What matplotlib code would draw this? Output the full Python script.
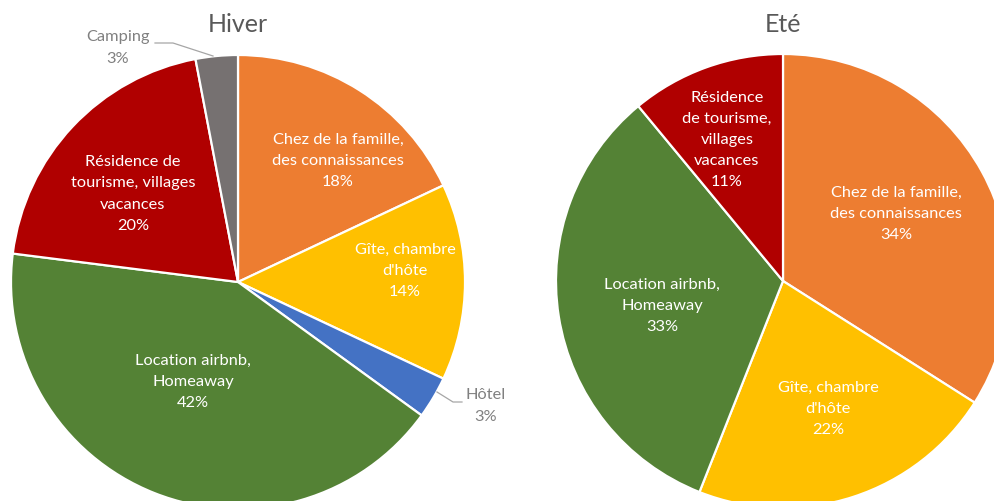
import matplotlib.pyplot as plt

# Hiver
hiver_labels = ["Chez de la famille,\ndes connaissances", "Gîte, chambre\nd'hôte", "Hôtel",
                "Location airbnb,\nHomeaway", "Résidence de\ntourisme, villages\nvacances", "Camping"]
hiver_values = [18, 14, 3, 42, 20, 3]
hiver_colors = ["#ED7D31", "#FFC000", "#4472C4", "#548235", "#B00000", "#767171"]

# Eté
ete_labels = ["Chez de la famille,\ndes connaissances", "Gîte, chambre\nd'hôte",
              "Location airbnb,\nHomeaway", "Résidence\nde tourisme,\nvillages\nvacances"]
ete_values = [34, 22, 33, 11]
ete_colors = ["#ED7D31", "#FFC000", "#548235", "#B00000"]

H = 501
plt.rcParams['font.family'] = ['Lato', 'DejaVu Sans']

fig = plt.figure(figsize=(9.95, 5.01), dpi=100)
ax = fig.add_axes([0, 0, 1, 1])


def py(y):
    return H - y


def draw_pie(values, colors, labels, center, radius, label_pos, outside, title, title_pos):
    ax.pie(values, colors=colors, startangle=90, counterclock=False,
           center=(center[0], py(center[1])), radius=radius,
           wedgeprops=dict(edgecolor="white", linewidth=1.6))
    total = sum(values)
    for lab, v, (x, y), out in zip(labels, values, label_pos, outside):
        txt = "%s\n%d%%" % (lab, round(100 * v / total))
        ax.text(x, py(y), txt, ha="center", va="center", fontsize=11.8, linespacing=1.65,
                color="#808080" if out else "white")
    ax.text(title_pos[0], py(title_pos[1]), title, ha="center", va="center",
            fontsize=18, color="#595959")


draw_pie(hiver_values, hiver_colors, hiver_labels, (238, 282), 227,
         [(338, 161), (405, 271), (486, 406), (193, 382), (133, 194), (118, 48)],
         [False, False, True, False, False, True], "Hiver", (238, 24))
draw_pie(ete_values, ete_colors, ete_labels, (783, 281), 227,
         [(896, 214), (828, 409), (662, 306), (727, 140)],
         [False, False, False, False], "Eté", (783, 24))

# leader lines
ax.plot([155, 173, 213], [py(43), py(43), py(56)], color="#A6A6A6", lw=0.9)
ax.plot([437, 453, 462], [py(392), py(402), py(402)], color="#A6A6A6", lw=0.9)

ax.set_xlim(0, 995)
ax.set_ylim(0, H)
ax.axis("off")

fig.savefig("out.png", dpi=100)
